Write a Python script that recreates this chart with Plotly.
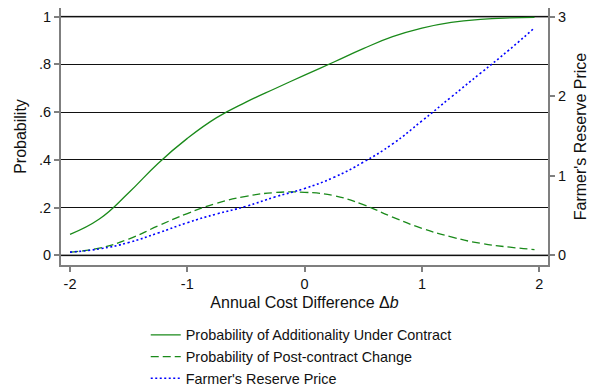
import plotly.graph_objects as go

# Annual cost difference grid
delta_b = [-2.0, -1.75, -1.5, -1.25, -1.0, -0.75, -0.5, -0.25, 0.0,
           0.25, 0.5, 0.75, 1.0, 1.25, 1.5, 1.75, 1.96]

# Probability of additionality under contract (left axis)
p_additionality = [0.088, 0.152, 0.262, 0.385, 0.49, 0.577, 0.642, 0.699, 0.755,
                   0.81, 0.866, 0.916, 0.952, 0.976, 0.989, 0.995, 0.997]

# Probability of post-contract change (left axis)
p_post_change = [0.013, 0.03, 0.068, 0.123, 0.175, 0.218, 0.247, 0.263, 0.264,
                 0.25, 0.212, 0.16, 0.113, 0.077, 0.05, 0.034, 0.024]

# Farmer's reserve price (right axis)
reserve_price = [0.04, 0.08, 0.16, 0.28, 0.41, 0.52, 0.615, 0.735, 0.84,
                 0.98, 1.17, 1.40, 1.69, 1.99, 2.29, 2.59, 2.86]

x_ticks = [-2, -1, 0, 1, 2]
x_ticktext = ["-2", "-1", "0", "1", "2"]
left_ticks = [0, 0.2, 0.4, 0.6, 0.8, 1]
left_ticktext = ["0", ".2", ".4", ".6", ".8", "1"]
right_ticks = [0, 1, 2, 3]

FONT = "Liberation Sans, Arial, sans-serif"
GREEN = "#1a8a1a"
BLUE = "#0000ff"
AXIS_GRAY = "#7f7f7f"

y_range = [-0.0407, 1.0364]

fig = go.Figure()
fig.add_trace(go.Scatter(
    x=delta_b, y=p_additionality, mode="lines",
    name="Probability of Additionality Under Contract",
    line=dict(color=GREEN, width=1.3, shape="spline", smoothing=1.3)))
fig.add_trace(go.Scatter(
    x=delta_b, y=p_post_change, mode="lines",
    name="Probability of Post-contract Change",
    line=dict(color=GREEN, width=1.3, dash="8px,4px", shape="spline",
              smoothing=1.3)))
fig.add_trace(go.Scatter(
    x=delta_b, y=reserve_price, mode="lines",
    name="Farmer's Reserve Price", yaxis="y2",
    line=dict(color=BLUE, width=1.6, dash="2px,2.5px", shape="spline",
              smoothing=1.3)))

# heavier gray rules at the ends of the probability scale
for yv in (left_ticks[0], left_ticks[-1]):
    fig.add_shape(type="line", xref="paper", x0=0, x1=1, yref="y", y0=yv, y1=yv,
                  line=dict(color=AXIS_GRAY, width=2), layer="between")

fig.update_layout(
    width=589, height=389,
    margin=dict(l=61, r=41, t=8, b=124, autoexpand=False),
    paper_bgcolor="white", plot_bgcolor="white",
    font=dict(family=FONT, size=14, color="#111111"),
    showlegend=True,
    legend=dict(x=0.174, y=-0.21, xanchor="left", yanchor="top",
                font=dict(family=FONT, size=14.4, color="#111111"),
                bgcolor="rgba(0,0,0,0)", tracegroupgap=0, itemwidth=30),
    xaxis=dict(range=[-2.077, 2.075], tickvals=x_ticks, ticktext=x_ticktext,
               ticks="outside", automargin=False,
               ticklen=5, tickwidth=1.5, tickcolor=AXIS_GRAY,
               showline=True, linecolor=AXIS_GRAY, linewidth=2,
               showgrid=False, zeroline=False,
               tickfont=dict(size=14.5),
               title=dict(text="Annual Cost Difference Δ<i>b</i>",
                          font=dict(size=16), standoff=5)),
    yaxis=dict(range=y_range, tickvals=left_ticks, ticktext=left_ticktext,
               ticks="outside", ticklen=5, tickwidth=1.5, tickcolor=AXIS_GRAY,
               automargin=False,
               showline=True, linecolor=AXIS_GRAY, linewidth=2,
               showgrid=True, gridcolor="#111111", gridwidth=1.2,
               zeroline=False, tickfont=dict(size=14.5),
               title=dict(text="Probability", font=dict(size=16), standoff=8)),
    yaxis2=dict(range=[3 * y_range[0], 3 * y_range[1]], tickvals=right_ticks,
                overlaying="y", side="right", automargin=False,
                ticks="outside", ticklen=5, tickwidth=1.5, tickcolor=AXIS_GRAY,
                showline=True, linecolor=AXIS_GRAY, linewidth=2,
                showgrid=False, zeroline=False, tickfont=dict(size=14.5),
                title=dict(text="Farmer's Reserve Price", font=dict(size=16),
                           standoff=10)),
)

fig.write_html("out.html")
